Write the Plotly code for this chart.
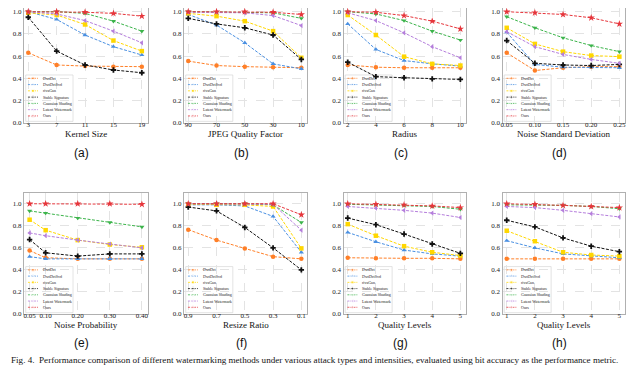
import plotly.graph_objects as go

# methods, colours and marker shapes
methods = ["DwtDct", "DwtDctSvd", "rivaGan", "Stable Signature",
           "Gaussian Shading", "Latent Watermark", "Ours"]
colors = ["#FF7F27", "#4A90E2", "#FFD700", "#111111", "#3CB44B", "#B57EDC", "#E6353B"]
symbols = ["circle", "triangle-up", "square", "cross", "triangle-down", "triangle-left", "star"]

# (a) Kernel Size
a_ticks = ["3", "7", "11", "15", "19"]
a_vals = [
    [0.63, 0.52, 0.51, 0.505, 0.505],
    [1.0, 0.93, 0.79, 0.685, 0.61],
    [0.99, 0.97, 0.885, 0.74, 0.645],
    [0.95, 0.645, 0.52, 0.475, 0.45],
    [1.0, 1.0, 0.985, 0.915, 0.825],
    [1.0, 0.98, 0.92, 0.825, 0.72],
    [1.0, 1.0, 0.995, 0.985, 0.96],
]
# (b) JPEG Quality Factor
b_ticks = ["90", "70", "50", "30", "10"]
b_vals = [
    [0.555, 0.515, 0.505, 0.50, 0.495],
    [0.975, 0.88, 0.72, 0.53, 0.485],
    [0.985, 0.96, 0.915, 0.825, 0.585],
    [0.94, 0.89, 0.855, 0.79, 0.57],
    [1.0, 0.995, 0.995, 0.99, 0.94],
    [0.995, 0.995, 0.99, 0.965, 0.875],
    [1.0, 1.0, 1.0, 0.995, 0.975],
]
# (c) Radius
c_ticks = ["2", "4", "6", "8", "10"]
c_vals = [
    [0.52, 0.50, 0.495, 0.495, 0.495],
    [0.89, 0.66, 0.56, 0.53, 0.51],
    [0.97, 0.79, 0.595, 0.53, 0.515],
    [0.545, 0.415, 0.405, 0.395, 0.39],
    [1.0, 0.98, 0.92, 0.825, 0.745],
    [0.99, 0.92, 0.81, 0.685, 0.585],
    [1.0, 0.995, 0.965, 0.915, 0.845],
]
# (d) Noise Standard Deviation
d_ticks = ["0.05", "0.10", "0.15", "0.20", "0.25"]
d_vals = [
    [0.63, 0.47, 0.495, 0.505, 0.505],
    [0.815, 0.525, 0.50, 0.50, 0.495],
    [0.855, 0.71, 0.64, 0.605, 0.595],
    [0.74, 0.535, 0.52, 0.515, 0.525],
    [0.955, 0.855, 0.765, 0.695, 0.64],
    [0.82, 0.685, 0.615, 0.57, 0.535],
    [1.0, 0.99, 0.975, 0.945, 0.89],
]
# (e) Noise Probability (numeric x)
e_x = [0.05, 0.10, 0.20, 0.30, 0.40]
e_ticks = ["0.05", "0.10", "0.20", "0.30", "0.40"]
e_vals = [
    [0.575, 0.51, 0.50, 0.50, 0.50],
    [0.52, 0.50, 0.50, 0.50, 0.50],
    [0.855, 0.76, 0.67, 0.63, 0.605],
    [0.675, 0.555, 0.525, 0.545, 0.545],
    [0.935, 0.915, 0.87, 0.83, 0.79],
    [0.735, 0.71, 0.67, 0.635, 0.60],
    [1.0, 1.0, 1.0, 1.0, 0.995],
]
# (f) Resize Ratio
f_ticks = ["0.9", "0.7", "0.5", "0.3", "0.1"]
f_vals = [
    [0.765, 0.67, 0.595, 0.52, 0.50],
    [0.99, 0.99, 0.98, 0.885, 0.56],
    [0.995, 0.99, 0.99, 0.975, 0.595],
    [0.97, 0.935, 0.785, 0.60, 0.40],
    [1.0, 1.0, 1.0, 0.99, 0.83],
    [1.0, 1.0, 1.0, 0.995, 0.76],
    [1.0, 1.0, 1.0, 1.0, 0.90],
]
# (g) Quality Levels
g_ticks = ["1", "2", "3", "4", "5"]
g_vals = [
    [0.51, 0.505, 0.505, 0.505, 0.50],
    [0.74, 0.655, 0.58, 0.545, 0.525],
    [0.815, 0.71, 0.615, 0.56, 0.53],
    [0.87, 0.81, 0.725, 0.635, 0.55],
    [0.995, 0.99, 0.985, 0.975, 0.95],
    [0.975, 0.96, 0.94, 0.915, 0.875],
    [1.0, 0.995, 0.99, 0.98, 0.965],
]
# (h) Quality Levels
h_ticks = ["1", "2", "3", "4", "5"]
h_vals = [
    [0.50, 0.50, 0.50, 0.50, 0.50],
    [0.665, 0.60, 0.545, 0.525, 0.51],
    [0.755, 0.66, 0.56, 0.535, 0.525],
    [0.85, 0.79, 0.69, 0.615, 0.565],
    [0.99, 0.99, 0.985, 0.975, 0.955],
    [0.975, 0.965, 0.94, 0.91, 0.88],
    [1.0, 0.995, 0.985, 0.975, 0.965],
]

idx = [0, 1, 2, 3, 4]
panels = [
    ("(a)", "Kernel Size", idx, a_ticks, a_vals),
    ("(b)", "JPEG Quality Factor", idx, b_ticks, b_vals),
    ("(c)", "Radius", idx, c_ticks, c_vals),
    ("(d)", "Noise Standard Deviation", idx, d_ticks, d_vals),
    ("(e)", "Noise Probability", e_x, e_ticks, e_vals),
    ("(f)", "Resize Ratio", idx, f_ticks, f_vals),
    ("(g)", "Quality Levels", idx, g_ticks, g_vals),
    ("(h)", "Quality Levels", idx, h_ticks, h_vals),
]

# the page body adds an 8px offset, so the figure is laid out in window pixels minus OFF
OFF = 8
W, H = 640 - OFF, 367 - OFF
px = lambda v: (v - OFF) / W
py = lambda v: 1 - (v - OFF) / H

col_lr = [(24, 147.5), (184, 307), (343.5, 466), (502.5, 625)]
row_tb = [(OFF, 122.7), (192.7, 314)]
serif = "Liberation Serif"
frame = "#b0b0b0"
grid = dict(showgrid=True, gridcolor="#e3e3e3", griddash="dash", gridwidth=0.6, zeroline=False)

fig = go.Figure()
layout = dict(width=W, height=H, margin=dict(l=0, r=0, t=0, b=0, autoexpand=False),
              paper_bgcolor="white", plot_bgcolor="white", showlegend=False)
annotations, shapes = [], []

for i, (lab, xtitle, xs, ticks, vals) in enumerate(panels):
    r, c = divmod(i, 4)
    n = "" if i == 0 else str(i + 1)
    xa, ya = "x" + n, "y" + n
    x0, x1 = col_lr[c]
    t, b = row_tb[r]
    xr = [0.0325, 0.4175] if xs is e_x else [-0.15, 4.2]
    # top row is cut by the window edge: its visible top sits just above 1.0
    ytop = (b - t) / 111.0 if r == 0 else 1.1
    yr = [0, ytop]
    ax = dict(domain=[px(x0), px(x1)], anchor=ya, range=xr, tickvals=xs, ticktext=ticks,
              showline=True, mirror=(r == 1), linecolor=frame, linewidth=1, automargin=False,
              ticks="", ticklabelstandoff=-5,
              tickfont=dict(family=serif, size=7, color="#222"), **grid)
    ay = dict(domain=[py(b), py(t)], anchor=xa, range=yr, automargin=False,
              tickvals=[0, 0.2, 0.4, 0.6, 0.8, 1.0], ticktext=["0.0", "0.2", "0.4", "0.6", "0.8", "1.0"],
              showline=True, mirror=True, linecolor=frame, linewidth=1, ticks="",
              tickfont=dict(family=serif, size=7, color="#222"), **grid)
    layout["xaxis" + n] = ax
    layout["yaxis" + n] = ay

    for k, m in enumerate(methods):
        fig.add_trace(go.Scatter(
            x=xs, y=vals[k], name=m, xaxis=xa, yaxis=ya, mode="lines+markers",
            line=dict(color=colors[k], width=1, dash="3px,1.5px"),
            marker=dict(symbol=symbols[k], size=4.5 if k != 6 else 5.5, color=colors[k]),
            cliponaxis=False))

    # small legend drawn inside the axes (lower left)
    xd = xa + " domain"
    shapes.append(dict(type="rect", xref=xd, yref=ya, x0=0.014, x1=0.397, y0=0.012, y1=0.43,
                       layer="below", line=dict(color="#d0d0d0", width=0.6), fillcolor="white"))
    for k, m in enumerate(methods):
        ey = 0.400 - k * (0.400 - 0.061) / 6
        lx = [xr[0] + f * (xr[1] - xr[0]) for f in (0.032, 0.073, 0.113)]
        fig.add_trace(go.Scatter(
            x=lx, y=[ey] * 3, xaxis=xa, yaxis=ya, mode="lines+markers", hoverinfo="skip",
            line=dict(color=colors[k], width=0.8, dash="2px,1px"),
            marker=dict(symbol=symbols[k], size=[0, 3, 0], color=colors[k])))
        annotations.append(dict(text=m, xref=xd, yref=ya, x=0.135, y=ey, xanchor="left",
                                yanchor="middle", showarrow=False,
                                font=dict(family=serif, size=4, color="#222")))

    # x-axis title and panel label
    cx = (x0 + x1) / 2
    ty = 133.5 if r == 0 else 325
    annotations.append(dict(text=xtitle, xref="paper", yref="paper", x=px(cx), y=py(ty),
                            xanchor="center", yanchor="middle", showarrow=False,
                            font=dict(family=serif, size=9, color="#111")))
    cy = 153 if r == 0 else 343
    annotations.append(dict(text=lab, xref="paper", yref="paper", x=px(cx - 4), y=py(cy),
                            xanchor="center", yanchor="middle", showarrow=False,
                            font=dict(family="Liberation Sans", size=12, color="#111")))

# figure caption
annotations.append(dict(text="Fig. 4.  Performance comparison of different watermarking methods under various "
                             "attack types and intensities, evaluated using bit accuracy as the performance metric.",
                        xref="paper", yref="paper", x=px(9), y=py(360),
                        xanchor="left", yanchor="middle", showarrow=False,
                        font=dict(family=serif, size=9.1, color="#111")))

layout["annotations"] = annotations
layout["shapes"] = shapes
fig.update_layout(**layout)
fig.write_html("out.html")
